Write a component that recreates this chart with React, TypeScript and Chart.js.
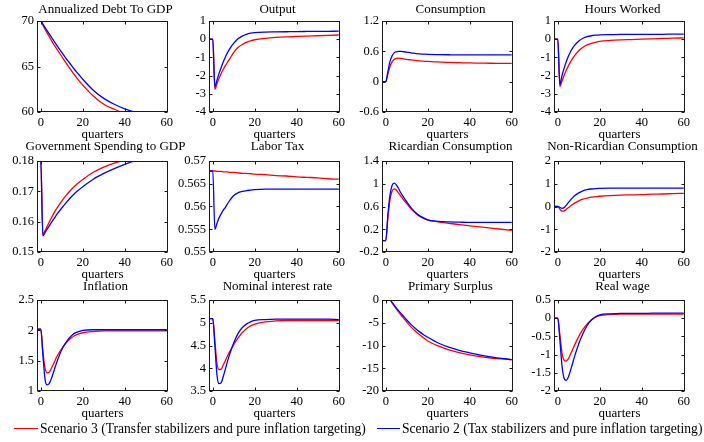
import React, { useEffect, useRef } from "react";
import { Chart, registerables } from "chart.js";
Chart.register(...registerables);

// ---------- data ----------
const quarters = [-2, -1, 0, 1, 2, 3, 4, 5, 6, 7, 8, 10, 12, 14, 16, 18, 20, 25, 30, 35, 40, 45, 50, 55, 60];
const xTickValues = [0, 20, 40, 60];

const seriesLabels = [
  "Scenario 3 (Transfer stabilizers and pure inflation targeting)",
  "Scenario 2 (Tax stabilizers and pure inflation targeting)",
];

const panelTitles = [
  "Annualized Debt To GDP", "Output", "Consumption", "Hours Worked",
  "Government Spending to GDP", "Labor Tax", "Ricardian Consumption", "Non-Ricardian Consumption",
  "Inflation", "Nominal interest rate", "Primary Surplus", "Real wage",
];

const debtS3 = [70, 70, 70, 69.55, 69.1, 68.7, 68.3, 67.9, 67.5, 67.15, 66.8, 66.1, 65.4, 64.75, 64.1, 63.5, 62.95, 61.75, 60.85, 60.3, 59.85, 59.5, 59.25, 59.1, 59.0];
const debtS2 = [70, 70, 70, 69.65, 69.3, 68.95, 68.6, 68.25, 67.9, 67.55, 67.2, 66.55, 65.9, 65.3, 64.7, 64.15, 63.6, 62.4, 61.5, 60.85, 60.35, 59.97, 59.7, 59.5, 59.35];

const outputS3 = [0, 0, 0, -2.76, -2.45, -2.15, -1.88, -1.65, -1.45, -1.27, -1.1, -0.72, -0.46, -0.29, -0.17, -0.09, -0.03, 0.05, 0.1, 0.13, 0.15, 0.17, 0.19, 0.21, 0.23];
const outputS2 = [0, 0, 0, -2.62, -2.25, -1.88, -1.55, -1.25, -0.98, -0.74, -0.54, -0.22, 0.02, 0.17, 0.27, 0.33, 0.36, 0.39, 0.4, 0.41, 0.42, 0.425, 0.43, 0.435, 0.44];

const consS3 = [0, 0, 0, 0.15, 0.3, 0.39, 0.44, 0.46, 0.465, 0.46, 0.455, 0.44, 0.43, 0.42, 0.41, 0.405, 0.4, 0.39, 0.38, 0.375, 0.37, 0.367, 0.364, 0.362, 0.36];
const consS2 = [0, 0, 0, 0.2, 0.4, 0.51, 0.57, 0.59, 0.6, 0.6, 0.595, 0.585, 0.57, 0.56, 0.55, 0.545, 0.54, 0.535, 0.532, 0.53, 0.53, 0.53, 0.53, 0.53, 0.53];

const hoursS3 = [0, 0, 0, -2.61, -2.3, -2.0, -1.72, -1.48, -1.26, -1.07, -0.9, -0.63, -0.44, -0.31, -0.23, -0.17, -0.12, -0.07, -0.04, -0.02, 0.0, 0.02, 0.04, 0.06, 0.07];
const hoursS2 = [0, 0, 0, -2.48, -2.0, -1.6, -1.25, -0.95, -0.7, -0.5, -0.34, -0.1, 0.05, 0.14, 0.19, 0.22, 0.24, 0.25, 0.26, 0.26, 0.27, 0.27, 0.27, 0.28, 0.28];

const govS3 = [0.18, 0.18, 0.18, 0.1555, 0.157, 0.1584, 0.1598, 0.1612, 0.1625, 0.1637, 0.1648, 0.1668, 0.1686, 0.1702, 0.1716, 0.1728, 0.1739, 0.1763, 0.178, 0.1793, 0.1803, 0.181, 0.1815, 0.1818, 0.182];
const govS2 = [0.18, 0.18, 0.18, 0.1553, 0.1564, 0.1575, 0.1586, 0.1597, 0.1607, 0.1617, 0.1627, 0.1645, 0.1662, 0.1678, 0.1692, 0.1704, 0.1715, 0.174, 0.1759, 0.1775, 0.1789, 0.1801, 0.181, 0.1816, 0.182];

const taxS3 = [0.5678, 0.5678, 0.5678, 0.5678, 0.5677, 0.5677, 0.5677, 0.5676, 0.5676, 0.5676, 0.5675, 0.5675, 0.5674, 0.5673, 0.5673, 0.5672, 0.5671, 0.567, 0.5668, 0.5667, 0.5665, 0.5664, 0.5663, 0.5661, 0.566];
const taxS2 = [0.5678, 0.5678, 0.5678, 0.555, 0.5563, 0.5575, 0.5584, 0.5592, 0.5598, 0.5606, 0.5613, 0.5624, 0.563, 0.5633, 0.5635, 0.5636, 0.5637, 0.5638, 0.5638, 0.5638, 0.5638, 0.5638, 0.5638, 0.5638, 0.5638];

const ricS3 = [0, 0, 0, 0.4, 0.72, 0.87, 0.91, 0.89, 0.84, 0.79, 0.74, 0.65, 0.56, 0.49, 0.43, 0.39, 0.36, 0.33, 0.305, 0.28, 0.26, 0.24, 0.22, 0.2, 0.18];
const ricS2 = [0, 0, 0, 0.45, 0.8, 0.97, 1.01, 0.98, 0.92, 0.85, 0.79, 0.68, 0.58, 0.5, 0.44, 0.4, 0.365, 0.34, 0.33, 0.325, 0.32, 0.32, 0.32, 0.32, 0.32];

const nonricS3 = [0, 0, 0, -0.12, -0.2, -0.19, -0.13, -0.06, 0.02, 0.09, 0.15, 0.25, 0.32, 0.37, 0.41, 0.43, 0.45, 0.48, 0.5, 0.51, 0.52, 0.54, 0.55, 0.57, 0.58];
const nonricS2 = [0, 0, 0, -0.04, -0.08, -0.05, 0.05, 0.17, 0.28, 0.38, 0.47, 0.6, 0.69, 0.74, 0.77, 0.79, 0.8, 0.81, 0.81, 0.81, 0.81, 0.81, 0.81, 0.81, 0.81];

const inflS3 = [2.02, 2.02, 2.02, 1.65, 1.38, 1.3, 1.31, 1.37, 1.44, 1.52, 1.59, 1.7, 1.79, 1.86, 1.91, 1.94, 1.96, 1.98, 1.99, 1.99, 1.99, 1.99, 1.99, 1.99, 1.99];
const inflS2 = [2.02, 2.02, 2.02, 1.6, 1.2, 1.1, 1.12, 1.2, 1.3, 1.41, 1.51, 1.68, 1.8, 1.89, 1.95, 1.98, 2.0, 2.01, 2.01, 2.01, 2.01, 2.01, 2.01, 2.01, 2.01];

const rateS3 = [5.09, 5.09, 5.09, 4.6, 4.1, 3.97, 3.98, 4.07, 4.17, 4.27, 4.36, 4.52, 4.66, 4.78, 4.87, 4.93, 4.97, 5.02, 5.04, 5.05, 5.05, 5.05, 5.05, 5.05, 5.05];
const rateS2 = [5.09, 5.09, 5.09, 4.5, 3.85, 3.66, 3.68, 3.82, 3.98, 4.15, 4.3, 4.56, 4.76, 4.89, 4.97, 5.02, 5.05, 5.07, 5.08, 5.08, 5.08, 5.08, 5.08, 5.08, 5.07];

const surplusS3 = [0, 0, 0, 0, 0, -0.65, -1.3, -1.93, -2.55, -3.15, -3.72, -4.85, -5.9, -6.8, -7.6, -8.35, -9.0, -10.1, -10.95, -11.55, -12.05, -12.45, -12.75, -12.95, -13.1];
const surplusS2 = [0, 0, 0, 0, 0, -0.55, -1.15, -1.72, -2.28, -2.82, -3.35, -4.4, -5.35, -6.2, -6.95, -7.62, -8.2, -9.45, -10.35, -11.05, -11.6, -12.1, -12.5, -12.85, -13.1];

const wageS3 = [0, 0, 0, -0.45, -0.95, -1.15, -1.18, -1.12, -1.0, -0.87, -0.74, -0.5, -0.31, -0.16, -0.05, 0.03, 0.07, 0.1, 0.11, 0.11, 0.11, 0.11, 0.11, 0.11, 0.11];
const wageS2 = [0, 0, 0, -0.6, -1.3, -1.65, -1.71, -1.62, -1.45, -1.25, -1.05, -0.7, -0.42, -0.2, -0.05, 0.04, 0.09, 0.12, 0.13, 0.13, 0.13, 0.14, 0.14, 0.14, 0.14];

const debtTicks = [60, 65, 70];
const outputTicks = [-4, -3, -2, -1, 0, 1];
const consTicks = [-0.6, 0, 0.6, 1.2];
const hoursTicks = [-4, -3, -2, -1, 0, 1];
const govTicks = [0.15, 0.16, 0.17, 0.18];
const taxTicks = [0.55, 0.555, 0.56, 0.565, 0.57];
const ricTicks = [-0.2, 0.2, 0.6, 1, 1.4];
const nonricTicks = [-2, -1, 0, 1, 2];
const inflTicks = [1, 1.5, 2, 2.5];
const rateTicks = [3.5, 4, 4.5, 5, 5.5];
const surplusTicks = [-20, -15, -10, -5, 0];
const wageTicks = [-2, -1.5, -1, -0.5, 0, 0.5];

const panelSeries = [
  [debtS3, debtS2, debtTicks], [outputS3, outputS2, outputTicks], [consS3, consS2, consTicks], [hoursS3, hoursS2, hoursTicks],
  [govS3, govS2, govTicks], [taxS3, taxS2, taxTicks], [ricS3, ricS2, ricTicks], [nonricS3, nonricS2, nonricTicks],
  [inflS3, inflS2, inflTicks], [rateS3, rateS2, rateTicks], [surplusS3, surplusS2, surplusTicks], [wageS3, wageS2, wageTicks],
];

// ---------- layout / style ----------
const FONT = "'Liberation Serif', 'Times New Roman', serif";
const RED = "#ff0000";
const BLUE = "#0000ff";
const colLeft = [37, 209, 382, 554];
const rowTop = [21, 161, 300];
const titleBaselineOffset = [8.5, 11, 10.5];
const PLOT_W = 131;
const PLOT_H = 91;
const Y_AXIS_W = 37;
const TITLE_H = 21;
const X_AXIS_H = 30;
const RIGHT_PAD = 24;

const boxPlugin = {
  id: "matlabBox",
  afterDatasetsDraw(chart: any) {
    const { ctx, chartArea: a, scales } = chart;
    ctx.save();
    ctx.strokeStyle = "#1a1a1a";
    ctx.lineWidth = 1;
    const L = Math.round(a.left) + 0.5;
    const T = Math.round(a.top) + 0.5;
    const R = Math.round(a.right) - 0.5;
    const B = Math.round(a.bottom) - 0.5;
    ctx.strokeRect(L, T, R - L, B - T);
    const tl = 3;
    ctx.beginPath();
    for (const t of scales.x.ticks) {
      const px = Math.round(scales.x.getPixelForValue(t.value)) + 0.5;
      ctx.moveTo(px, B); ctx.lineTo(px, B - tl);
      ctx.moveTo(px, T); ctx.lineTo(px, T + tl);
    }
    for (const t of scales.y.ticks) {
      const py = Math.round(scales.y.getPixelForValue(t.value)) + 0.5;
      ctx.moveTo(L, py); ctx.lineTo(L + tl, py);
      ctx.moveTo(R, py); ctx.lineTo(R - tl, py);
    }
    ctx.stroke();
    // axes title (drawn centred over the plot box, allowed to overflow)
    const opts = chart.options.plugins.panelTitle;
    ctx.fillStyle = "#000";
    ctx.font = `13px ${FONT}`;
    ctx.textAlign = "center";
    ctx.textBaseline = "alphabetic";
    ctx.fillText(opts.text, (a.left + a.right) / 2 + 3, a.top - opts.offset);
    ctx.restore();
  },
};

function Panel({ index }: { index: number }) {
  const ref = useRef<HTMLCanvasElement | null>(null);
  const row = Math.floor(index / 4);
  const col = index % 4;
  const width = Y_AXIS_W + PLOT_W + RIGHT_PAD;
  const height = TITLE_H + PLOT_H + X_AXIS_H;
  const left = colLeft[col] - Y_AXIS_W;
  const top = rowTop[row] - TITLE_H;

  useEffect(() => {
    const [s3, s2, ticks] = panelSeries[index] as [number[], number[], number[]];
    const tickFont = { family: FONT, size: 12.5, weight: "normal" as const };
    const labelFont = { family: FONT, size: 13, weight: "normal" as const };
    const chart = new Chart(ref.current as HTMLCanvasElement, {
      type: "line",
      data: {
        datasets: [
          {
            label: seriesLabels[0],
            data: quarters.map((q, i) => ({ x: q, y: s3[i] })),
            borderColor: RED, borderWidth: 1.3, pointRadius: 0,
            cubicInterpolationMode: "monotone", fill: false, order: 1, clip: 0,
          },
          {
            label: seriesLabels[1],
            data: quarters.map((q, i) => ({ x: q, y: s2[i] })),
            borderColor: BLUE, borderWidth: 1.3, pointRadius: 0,
            cubicInterpolationMode: "monotone", fill: false, order: 0, clip: 0,
          },
        ],
      },
      options: {
        animation: false,
        responsive: false,
        maintainAspectRatio: false,
        devicePixelRatio: 1,
        events: [],
        layout: { padding: { left: 0, right: RIGHT_PAD, top: TITLE_H, bottom: 0 } },
        plugins: {
          legend: { display: false },
          tooltip: { enabled: false },
          title: { display: false },
          panelTitle: { text: panelTitles[index], offset: titleBaselineOffset[row] },
        },
        scales: {
          x: {
            type: "linear", min: -1.8, max: 60.6,
            grid: { display: false, drawTicks: false },
            border: { display: false },
            ticks: { font: tickFont, color: "#000", padding: 3, autoSkip: false, maxRotation: 0 },
            afterBuildTicks: (s: any) => { s.ticks = xTickValues.map((v) => ({ value: v })); },
            afterFit: (s: any) => { s.height = X_AXIS_H; },
            title: { display: true, text: "quarters", font: labelFont, color: "#000", padding: 0 },
          },
          y: {
            type: "linear", min: ticks[0], max: ticks[ticks.length - 1],
            grid: { display: false, drawTicks: false },
            border: { display: false },
            ticks: { font: tickFont, color: "#000", padding: 3, autoSkip: false, callback: (v: any) => String(v) },
            afterBuildTicks: (s: any) => { s.ticks = ticks.map((v) => ({ value: v })); },
            afterFit: (s: any) => { s.width = Y_AXIS_W; },
          },
        },
      } as any,
      plugins: [boxPlugin],
    });
    return () => chart.destroy();
  }, [index]);

  return (
    <canvas
      ref={ref}
      width={width}
      height={height}
      style={{ position: "absolute", left, top, width, height }}
    />
  );
}

function LegendItem({ color, lineLeft, textLeft, text }: { color: string; lineLeft: number; textLeft: number; text: string }) {
  return (
    <>
      <div style={{ position: "absolute", left: lineLeft, top: 428, width: textLeft - lineLeft - 2, height: 0, borderTop: `1.3px solid ${color}` }} />
      <div style={{ position: "absolute", left: textLeft, top: 421, fontFamily: FONT, fontSize: 13.6, lineHeight: "16px", whiteSpace: "nowrap", color: "#000" }}>
        {text}
      </div>
    </>
  );
}

export default function App() {
  return (
    <div style={{ position: "fixed", left: 0, top: 0, width: 704, height: 442, background: "#fff", overflow: "hidden" }}>
      {panelTitles.map((_, i) => <Panel key={i} index={i} />)}
      <LegendItem color={RED} lineLeft={14} textLeft={40} text={seriesLabels[0]} />
      <LegendItem color={BLUE} lineLeft={377} textLeft={402} text={seriesLabels[1]} />
    </div>
  );
}
